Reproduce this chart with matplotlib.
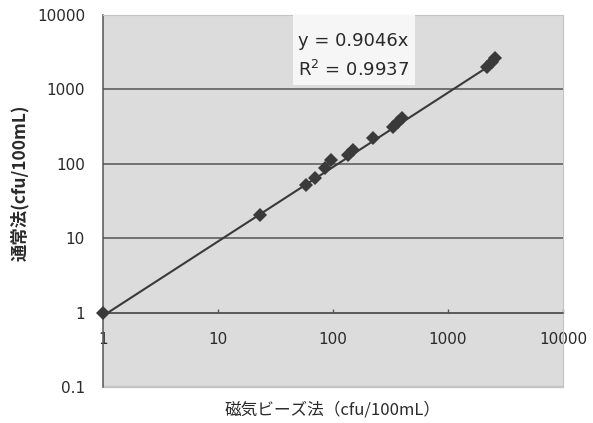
import numpy as np
import matplotlib; matplotlib.use('Agg'); import matplotlib.pyplot as plt
from matplotlib.patches import Rectangle

# 磁気ビーズ法 vs 通常法 (cfu/100mL)
bead = [1, 23, 58, 70, 85, 96, 135, 149, 223, 332, 367, 398, 2180, 2400, 2560]
std = [1, 20.5, 52, 65, 88, 113, 132, 154, 223, 314, 366, 414, 2000, 2300, 2650]
slope = 0.9046
r2 = 0.9937
xticks = [1, 10, 100, 1000, 10000]
yticks = [0.1, 1, 10, 100, 1000, 10000]
xlabel = '磁気ビーズ法（cfu/100mL）'
ylabel = '通常法(cfu/100mL)'

plt.rcParams['font.family'] = ['DejaVu Sans']
JP = ['Noto Sans CJK JP', 'DejaVu Sans']
INK = '#3a3a3a'
TXT = '#2a2a2a'

fig = plt.figure(figsize=(5.93, 4.23), dpi=100)
ax = fig.add_axes([103/593, 1-387/423, 460/593, 372/423])
ax.set_xscale('log'); ax.set_yscale('log')
ax.set_xlim(1, 10000); ax.set_ylim(0.1, 10000)
ax.set_facecolor('#dcdcdc')

ax.set_yticks(yticks); ax.set_yticklabels([f'{v:g}' for v in yticks])
ax.set_xticks(xticks); ax.set_xticklabels([f'{v:g}' for v in xticks])
ax.minorticks_off()
ax.tick_params(axis='y', length=0, pad=13, labelsize=11, labelcolor=TXT)
ax.tick_params(axis='x', direction='in', length=3, width=1, color='#555', pad=14, labelsize=11, labelcolor=TXT)

ax.grid(axis='y', color='#555', lw=1.1)
gl = ax.get_ygridlines(); gl[0].set_visible(False); gl[-1].set_visible(False)

for s in ['top', 'right']:
    ax.spines[s].set_color('#c4c4c4'); ax.spines[s].set_linewidth(0.8)
ax.spines['left'].set_color('#555'); ax.spines['left'].set_linewidth(1.1)
ax.spines['bottom'].set_position(('data', 1))
ax.spines['bottom'].set_color('#555'); ax.spines['bottom'].set_linewidth(1.1)
ax.add_patch(Rectangle((0, 0), 1, 0.002, transform=ax.transAxes, color='#c4c4c4', clip_on=False, zorder=0.5))

xf = np.array([min(bead), max(bead)])
ax.plot(xf, slope*xf, color=INK, lw=1.5, zorder=3)
ax.plot(bead, std, 'D', color=INK, ms=7.5, mew=0, zorder=4, clip_on=False)

ax.add_patch(Rectangle((293/593, 1-85/423), 122/593, 70/423, transform=fig.transFigure, facecolor='#f6f6f6', edgecolor='none', zorder=5))
fig.text(298/593, 1-41/423, f'y = {slope}x', fontsize=13, color=TXT, va='center', zorder=6)
fig.text(298/593, 1-70/423, f'R$^2$ = {r2}', fontsize=13, color=TXT, va='center', zorder=6)

fig.text(333/593, 1-410/423, xlabel, family=JP, fontsize=12, color=TXT, ha='center', va='center')
fig.text(20/593, 1-183/423, ylabel, family=JP, fontsize=12.5, color=TXT, ha='center', va='center', rotation=90, weight='bold')

fig.savefig('out.png', dpi=100)
